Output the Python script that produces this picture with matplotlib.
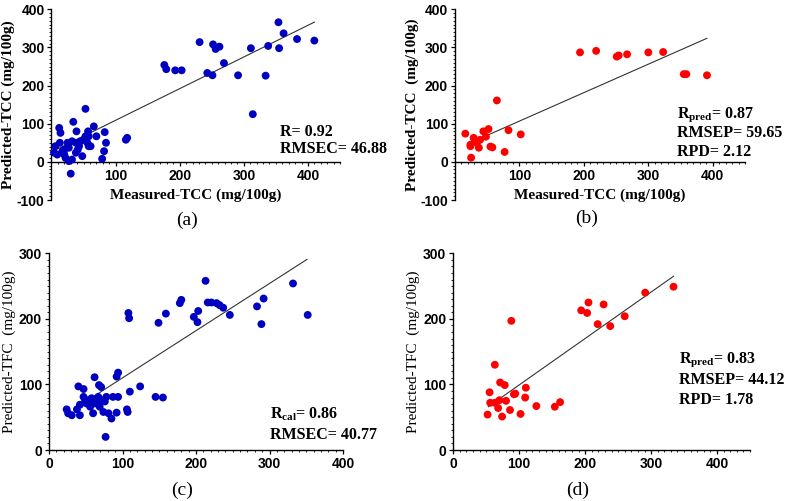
import matplotlib
matplotlib.use("Agg")
import matplotlib.pyplot as plt
from matplotlib.ticker import MultipleLocator

plt.rcParams["font.family"] = ["Liberation Sans", "DejaVu Sans"]
plt.rcParams["font.weight"] = "bold"
plt.rcParams["mathtext.fontset"] = "custom"
plt.rcParams["mathtext.rm"] = "Liberation Serif:bold"
plt.rcParams["mathtext.bf"] = "Liberation Serif:bold"
plt.rcParams["mathtext.it"] = "Liberation Serif:bold"

# ---------------- data ----------------
# (a) TCC calibration
a_x = [354, 362, 383, 410, 338, 355, 311, 334, 291, 314, 269, 251, 243, 231, 252, 256, 262,
       176, 179, 193, 203,
       12, 14, 34, 39, 53, 66, 57, 70, 83, 85, 82, 79, 30, 116, 118, 6, 9, 17, 25, 22, 27, 32,
       38, 43, 48, 45, 50, 56, 58, 61, 4, 13, 20, 27, 32, 38, 41, 53, 58, 20]
a_y = [366, 337, 322, 318, 304, 298, 298, 226, 227, 125, 259, 227, 233, 314, 308, 296, 302,
       254, 243, 240, 240,
       89, 76, 105, 80, 139, 93, 80, 67, 78, 50, 28, 8, -31, 58, 63, 41, 19, 28, 50, 10, 2, 6,
       24, 41, 15, 54, 58, 50, 67, 41, 24, 50, 32, 37, 54, 50, 32, 67, 41, 19]
a_line_x = [10, 410]
a_slope, a_icpt = 0.83, 26

# (b) TCC prediction
b_x = [194, 219, 251, 254, 267, 300, 323, 355, 359, 391,
       65, 16, 83, 102, 77, 25, 24, 29, 34, 37, 44, 52, 48, 39, 55, 58, 24]
b_y = [287, 291, 276, 279, 282, 287, 288, 230, 230, 227,
       161, 74, 83, 72, 26, 11, 41, 63, 50, 37, 80, 86, 66, 58, 40, 38, 45]
b_line_x = [21, 391]
b_slope, b_icpt = 0.746, 32.3

# (c) TFC calibration
c_x = [213, 332, 292, 283, 289, 352, 246, 237, 232, 228, 221, 216, 203, 197, 202, 180, 178,
       159, 149, 108, 109, 155, 145, 124, 110, 94, 92, 106, 107, 62, 68, 71, 40, 47, 77, 85,
       92, 24, 26, 31, 38, 42, 49, 47, 56, 60, 51, 62, 69, 74, 67, 78, 87, 94, 58, 65, 71,
       81, 76, 54, 42]
c_y = [258, 254, 231, 219, 192, 206, 206, 217, 221, 224, 225, 225, 212, 203, 195, 229, 224,
       208, 194, 209, 201, 80, 81, 97, 89, 118, 112, 62, 58, 111, 99, 96, 97, 93, 20, 48,
       57, 62, 56, 53, 62, 53, 74, 81, 66, 56, 71, 71, 66, 58, 81, 81, 81, 81, 79, 74, 76,
       56, 74, 76, 69]
c_line_x = [42, 351]
c_slope, c_icpt = 0.72, 38

# (d) TFC prediction
d_x = [334, 291, 260, 238, 219, 228, 205, 203, 194, 88, 63, 55, 71, 78, 94, 92, 110, 109,
       56, 63, 70, 80, 68, 86, 74, 52, 102, 126, 154, 162]
d_y = [249, 240, 204, 189, 192, 222, 225, 209, 213, 197, 130, 88, 103, 99, 86, 85, 95, 80,
       72, 72, 76, 75, 64, 61, 51, 54, 55, 67, 66, 73]
d_line_x = [53, 334]
d_slope, d_icpt = 0.708, 28.5

BLUE = "#0000C0"
RED = "#FF0000"

W, H = 789, 501
fig = plt.figure(figsize=(W / 100, H / 100), dpi=100)


def add_ax(left, right, top, bottom):
    return fig.add_axes([left / W, (H - bottom) / H, (right - left) / W, (bottom - top) / H])


def style(ax, xlim, ylim, xticks, yticks, cross_zero):
    ax.set_xlim(*xlim)
    ax.set_ylim(*ylim)
    for s in ["top", "right"]:
        ax.spines[s].set_visible(False)
    for s in ["left", "bottom"]:
        ax.spines[s].set_linewidth(1.0)
    if cross_zero:
        ax.spines["bottom"].set_position(("data", 0))
    ax.set_xticks(xticks)
    ax.set_yticks(yticks)
    ax.set_xticklabels([str(v) for v in xticks], fontweight="bold", family="Liberation Sans")
    ax.set_yticklabels([str(v) for v in yticks], fontweight="bold", family="Liberation Sans")
    ax.xaxis.set_minor_locator(MultipleLocator(10))
    ax.yaxis.set_minor_locator(MultipleLocator(10))
    ax.tick_params(which="major", length=3, width=0.9, direction="out", pad=2,
                   labelsize=10)
    ax.tick_params(which="minor", length=1.6, width=0.6, direction="out")


def scatter_with_line(ax, xs, ys, color, lx, slope, icpt):
    ly = [slope * v + icpt for v in lx]
    ax.plot(lx, ly, color="#333333", lw=0.8, zorder=2)
    ax.scatter(xs, ys, s=32, color=color, edgecolors="none", zorder=3, clip_on=False)


serif_bold = dict(family="Liberation Serif", weight="bold")
ANN = 11.5
LAB = 11

# (a)
ax_a = add_ax(51.5, 340, 9.3, 200)
scatter_with_line(ax_a, a_x, a_y, BLUE, a_line_x, a_slope, a_icpt)
style(ax_a, (0, 450), (-100, 400), [100, 200, 300, 400], [-100, 0, 100, 200, 300, 400], True)
ax_a.set_xlabel("Measured-TCC (mg/100g)", fontsize=LAB, labelpad=4, **serif_bold)
ax_a.set_ylabel("Predicted-TCC (mg/100g)", fontsize=LAB, labelpad=1, **serif_bold)
ax_a.text(357, 79, "R= 0.92", fontsize=ANN, va="center", ha="left", **serif_bold)
ax_a.text(357, 35, "RMSEC= 46.88", fontsize=ANN, va="center", ha="left", **serif_bold)

# (b)
ax_b = add_ax(455, 745, 9.3, 200)
scatter_with_line(ax_b, b_x, b_y, RED, b_line_x, b_slope, b_icpt)
style(ax_b, (0, 450), (-100, 400), [100, 200, 300, 400], [-100, 0, 100, 200, 300, 400], True)
ax_b.set_xlabel("Measured-TCC (mg/100g)", fontsize=LAB, labelpad=4, **serif_bold)
ax_b.set_ylabel("Predicted-TCC  (mg/100g)", fontsize=LAB, labelpad=1, **serif_bold)
ax_b.text(345, 124, r"R$_{\mathrm{pred}}$= 0.87", fontsize=ANN, va="center", ha="left", **serif_bold)
ax_b.text(345, 76, "RMSEP= 59.65", fontsize=ANN, va="center", ha="left", **serif_bold)
ax_b.text(345, 27, "RPD= 2.12", fontsize=ANN, va="center", ha="left", **serif_bold)

# (c)
ax_c = add_ax(49, 343, 253.3, 450)
scatter_with_line(ax_c, c_x, c_y, BLUE, c_line_x, c_slope, c_icpt)
style(ax_c, (0, 400), (0, 300), [0, 100, 200, 300, 400], [0, 100, 200, 300], False)
ax_c.set_ylabel("Predicted-TFC  (mg/100g)", fontsize=LAB, labelpad=2,
                family="Liberation Serif", weight="normal")
ax_c.text(300, 54, r"R$_{\mathrm{cal}}$= 0.86", fontsize=ANN, va="center", ha="left", **serif_bold)
ax_c.text(300, 23, "RMSEC= 40.77", fontsize=ANN, va="center", ha="left", **serif_bold)

# (d)
ax_d = add_ax(453.3, 750, 253.3, 450)
scatter_with_line(ax_d, d_x, d_y, RED, d_line_x, d_slope, d_icpt)
style(ax_d, (0, 450), (0, 300), [0, 100, 200, 300, 400], [0, 100, 200, 300], False)
ax_d.set_ylabel("Predicted-TFC  (mg/100g)", fontsize=LAB, labelpad=2,
                family="Liberation Serif", weight="normal")
ax_d.text(343, 137, r"R$_{\mathrm{pred}}$= 0.83", fontsize=ANN, va="center", ha="left", **serif_bold)
ax_d.text(343, 107, "RMSEP= 44.12", fontsize=ANN, va="center", ha="left", **serif_bold)
ax_d.text(343, 76, "RPD= 1.78", fontsize=ANN, va="center", ha="left", **serif_bold)

# panel letters
for lbl, px, py in [("(a)", 187, 220), ("(b)", 587, 218), ("(c)", 182, 490), ("(d)", 578, 490)]:
    fig.text(px / W, 1 - py / H, lbl, fontsize=14, family="Liberation Serif",
             weight="normal", ha="center", va="center")

fig.savefig("out.png", dpi=100)
